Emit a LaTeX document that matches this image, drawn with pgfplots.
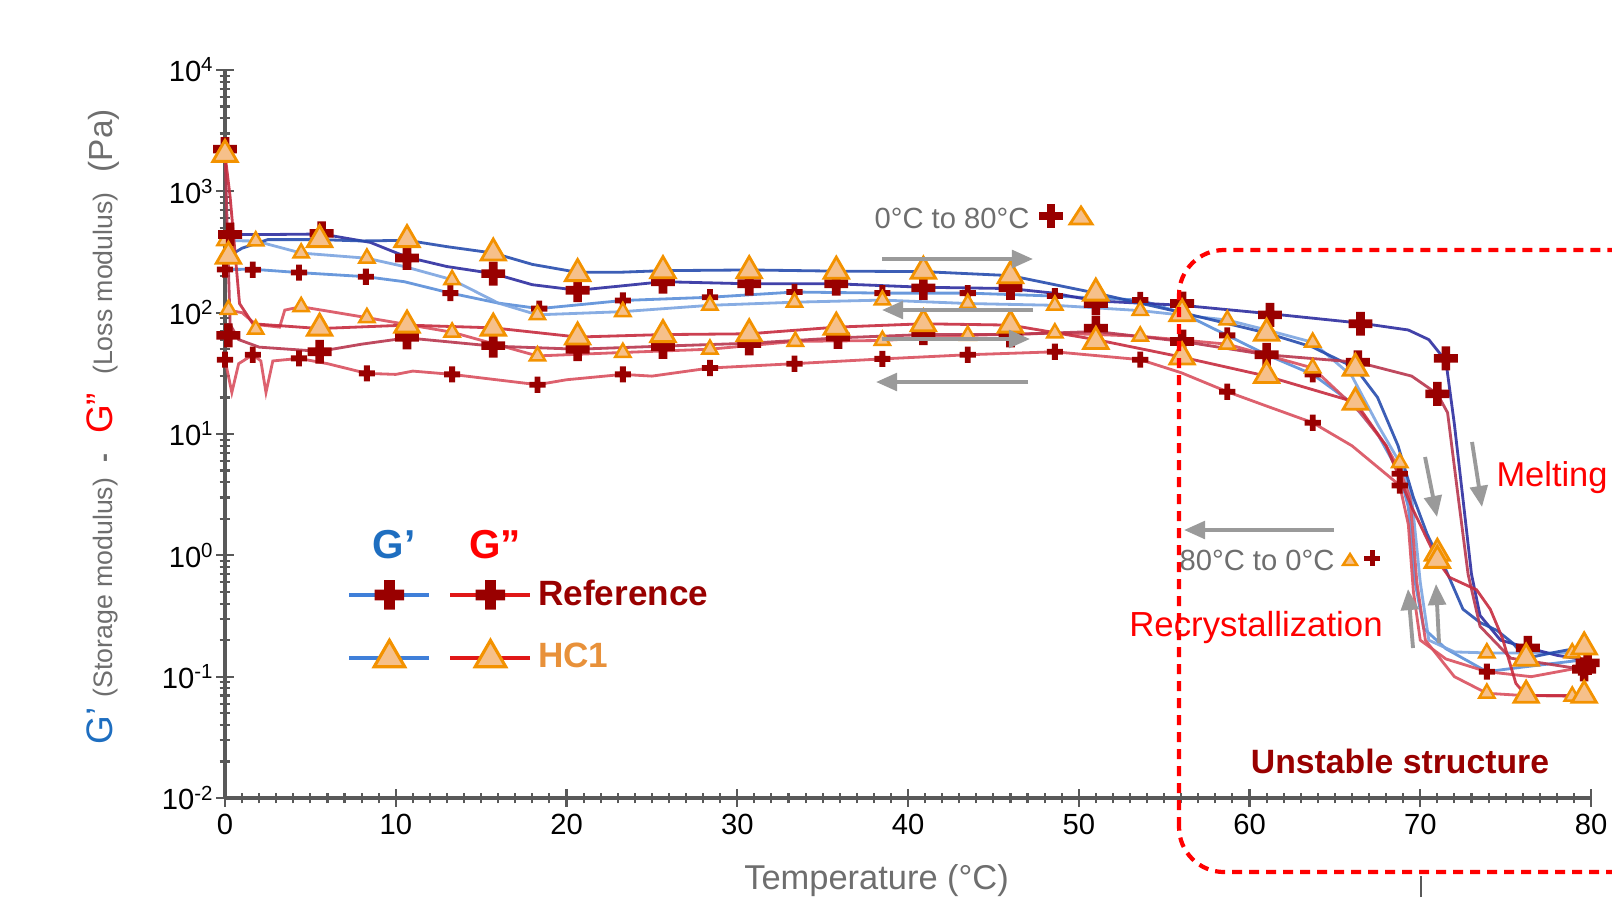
\documentclass[border=0pt]{standalone}
\usepackage{fontspec}
\setmainfont{Liberation Sans}
\usepackage{pgfplots}
\pgfplotsset{compat=1.18}
\usetikzlibrary{arrows.meta}

\definecolor{crossred}{HTML}{990000}
\definecolor{trifill}{HTML}{F6C08A}
\definecolor{tridraw}{HTML}{F39200}
\definecolor{gpblue}{HTML}{1E6EC0}
\definecolor{txtgray}{HTML}{6E6E6E}
\definecolor{arrgray}{HTML}{9A9A9A}
\definecolor{hblue}{HTML}{2E2EA0}
\definecolor{cblue}{HTML}{5A8ED8}
\definecolor{hred}{HTML}{B8364E}
\definecolor{cred}{HTML}{D9505E}
\definecolor{hcorange}{HTML}{E8913A}
\definecolor{legblue}{HTML}{3F7FD9}
\definecolor{legred}{HTML}{E01818}

% filled plus sign
\pgfdeclareplotmark{fplus}{%
  \pgfpathmoveto{\pgfpoint{-0.36\pgfplotmarksize}{\pgfplotmarksize}}%
  \pgfpathlineto{\pgfpoint{0.36\pgfplotmarksize}{\pgfplotmarksize}}%
  \pgfpathlineto{\pgfpoint{0.36\pgfplotmarksize}{0.36\pgfplotmarksize}}%
  \pgfpathlineto{\pgfpoint{\pgfplotmarksize}{0.36\pgfplotmarksize}}%
  \pgfpathlineto{\pgfpoint{\pgfplotmarksize}{-0.36\pgfplotmarksize}}%
  \pgfpathlineto{\pgfpoint{0.36\pgfplotmarksize}{-0.36\pgfplotmarksize}}%
  \pgfpathlineto{\pgfpoint{0.36\pgfplotmarksize}{-\pgfplotmarksize}}%
  \pgfpathlineto{\pgfpoint{-0.36\pgfplotmarksize}{-\pgfplotmarksize}}%
  \pgfpathlineto{\pgfpoint{-0.36\pgfplotmarksize}{-0.36\pgfplotmarksize}}%
  \pgfpathlineto{\pgfpoint{-\pgfplotmarksize}{-0.36\pgfplotmarksize}}%
  \pgfpathlineto{\pgfpoint{-\pgfplotmarksize}{0.36\pgfplotmarksize}}%
  \pgfpathlineto{\pgfpoint{-0.36\pgfplotmarksize}{0.36\pgfplotmarksize}}%
  \pgfpathclose
  \pgfusepathqfill
}

\pgfplotsset{
  legend image code/.code={\draw[mark repeat=2,mark phase=2,#1] plot coordinates {(0cm,0cm) (0.4cm,0cm) (0.8cm,0cm)};},
  bigX/.style={forget plot, only marks, mark=fplus, mark size=3.4pt, mark options={fill=crossred, draw=none}},
  smallX/.style={forget plot, only marks, mark=fplus, mark size=2.3pt, mark options={fill=crossred, draw=none}},
  bigT/.style={forget plot, only marks, mark=triangle*, mark size=4pt, mark options={fill=trifill, draw=tridraw, line width=0.8pt}},
  smallT/.style={forget plot, only marks, mark=triangle*, mark size=2.5pt, mark options={fill=trifill, draw=tridraw, line width=0.7pt}},
  hline/.style={forget plot, no markers, line width=0.8pt, opacity=0.9},
}

\tikzset{arr/.style={draw=arrgray, line width=1.1pt, -{Triangle[length=6pt,width=5pt]}}}

\begin{document}
\begin{tikzpicture}
\clip (0,0) rectangle (16.12,8.97);

\begin{axis}[
  at={(2.25cm,0.99cm)}, anchor=south west,
  scale only axis, width=13.66cm, height=7.28cm,
  xmin=0, xmax=80, ymode=log, ymin=1e-2, ymax=1e4,
  clip=false,
  axis lines*=left,
  axis line style={draw=gray!70!black, line width=1.2pt},
  tick style={gray!70!black, line width=0.6pt},
  tick align=center, major tick length=5pt, minor tick length=3pt,
  xtick distance=10, minor x tick num=9,
  ytick={1e-2,1e-1,1,10,100,1000,1e4},
  yticklabels={10\textsuperscript{-2},10\textsuperscript{-1},10\textsuperscript{0},10\textsuperscript{1},10\textsuperscript{2},10\textsuperscript{3},10\textsuperscript{4}},
  /pgf/number format/assume math mode=true,
  ticklabel style={font=\fontsize{8.3}{9}\selectfont},
  yticklabel style={xshift=3pt},
  xticklabel style={yshift=1.5pt},
  xlabel={Temperature (°C)},
  every axis x label/.style={at={(axis description cs:0.477,-0.114)}, anchor=center,
    font=\fontsize{9.8}{11}\selectfont, text=txtgray},
  ylabel={{\color{gpblue}\fontsize{10.5}{11}\selectfont G’}\hspace{0.1cm}{\color{txtgray}(Storage modulus)}\hspace{0.15cm}{\color{txtgray}\bfseries -}\hspace{0.2cm}{\color{red}\fontsize{10.5}{11}\selectfont G”}\hspace{0.18cm}{\color{txtgray}(Loss modulus)}\hspace{0.2cm}{\color{txtgray}\fontsize{9.5}{11}\selectfont(Pa)}},
  every axis y label/.style={at={(axis description cs:-0.0893,0.51)}, anchor=center, rotate=90,
    font=\fontsize{7.6}{9}\selectfont},
  legend columns=2,
  legend cell align=left,
  legend style={at={(axis description cs:0.0893,0.236)}, anchor=west, draw=none, fill=none,
    inner sep=0pt, row sep=0.3cm, nodes={inner sep=0pt, anchor=west},
    font=\fontsize{10}{12}\selectfont\bfseries,
    /tikz/column 2/.style={column sep=0.14cm},
    /tikz/column 3/.style={column sep=0.06cm}},
]
% legend
\addlegendimage{legblue, line width=1pt, mark=fplus, mark size=4.2pt, mark options={fill=crossred, draw=none}}
\addlegendentry{}
\addlegendimage{legred, line width=1pt, mark=fplus, mark size=4.2pt, mark options={fill=crossred, draw=none}}
\addlegendentry{\textcolor{crossred}{Reference}}
\addlegendimage{legblue, line width=1pt, mark=triangle*, mark size=5pt, mark options={fill=trifill, draw=tridraw, line width=0.9pt}}
\addlegendentry{}
\addlegendimage{legred, line width=1pt, mark=triangle*, mark size=5pt, mark options={fill=trifill, draw=tridraw, line width=0.9pt}}
\addlegendentry{\textcolor{hcorange}{HC1}}

% ---- lines: cooling (80 -> 0 C)
\addplot[hline, cblue] coordinates {(0,227)(1.63,228)(4.33,214)(8.25,198)(10.5,180)(13.2,145)(16,120)(18.4,108)(23.3,126)(28.4,134)(33.35,148)(38.5,145)(43.5,145)(48.6,137)(53.6,127)(56,100)(58.7,65)(61,45)(63.7,31)(66,18)(67.5,10)(68.8,4.7)(69.3,2.5)(69.7,0.6)(70.2,0.25)(71.5,0.17)(73.9,0.11)(76,0.12)(80,0.14)};
\addplot[hline, cblue!80!white] coordinates {(0,392)(1.8,390)(4.46,310)(8.31,281)(10.5,240)(13.3,187)(16,120)(18.3,96)(23.3,102)(28.4,115)(33.35,122)(38.5,127)(43.5,119)(48.6,115)(53.6,104)(58.7,87)(61,72)(63.7,57)(66,30)(67.5,12)(68.8,5.8)(69.5,3)(70,0.6)(70.5,0.2)(72,0.16)(73.9,0.157)(78.9,0.157)(80,0.16)};
\addplot[hline, cred] coordinates {(0,41)(0.4,22)(0.8,38)(1.63,45)(2.1,40)(2.4,22)(2.8,40)(4.33,42)(6,38)(8.31,31.6)(10,31)(11,33)(13.3,31)(15,29)(18.3,25.5)(20,28)(23.3,31)(25,30)(28.4,35)(33.35,38)(38.5,41.6)(43.5,45)(48.6,47.6)(53.6,41)(56,32)(58.7,22.3)(61,17)(63.7,12.4)(66,8)(68.8,3.77)(69.3,1.8)(69.6,0.5)(70,0.2)(71.5,0.14)(73.9,0.11)(76.5,0.1)(79.4,0.119)(80,0.12)};
\addplot[hline, cred] coordinates {(0,106)(1,100)(1.8,80)(3.2,76)(3.5,105)(4.46,112)(8.31,91)(13.3,69)(18.3,44)(23.3,47)(28.4,50)(33.4,58)(38.5,59)(43.5,65)(48.6,68)(53.6,64)(58.7,55)(63.7,35)(66.5,15)(68,8)(68.8,5)(69.4,3)(69.8,0.6)(70.3,0.2)(72,0.1)(73.9,0.073)(76,0.07)(78.9,0.069)(80,0.07)};
% ---- lines: heating (0 -> 80 C)
\addplot[hline, hblue] coordinates {(0.1,441)(2,440)(5.66,445)(8.5,380)(10.66,287)(13,240)(15.71,210)(18,170)(20.65,153)(23,165)(25.65,180)(30.7,173)(35.8,173)(40.9,162)(46,158)(48.5,145)(51,125)(56.05,115)(61.2,98)(66.5,82)(69.3,72)(70.5,60)(71.5,40)(72,12)(72.6,2.2)(73,0.7)(73.5,0.32)(74.7,0.2)(76.3,0.173)(78,0.15)(80,0.135)};
\addplot[hline, hblue!85!cyan] coordinates {(0.2,292)(1,340)(2.5,400)(5.54,400)(8,390)(10.66,395)(13,350)(15.71,310)(18,250)(20.65,215)(23,215)(25.65,222)(30.7,225)(35.8,220)(40.9,218)(46,202)(51,145)(56.05,100)(61,68)(63.7,52)(66.2,35)(67.5,20)(68.7,8)(69.6,3)(70.4,1.5)(71,1.0)(71.5,0.76)(72.5,0.36)(73.5,0.28)(74.5,0.24)(75.4,0.19)(76.2,0.142)(78,0.16)(80,0.18)};
\addplot[hline, hred] coordinates {(0,2225)(0.15,400)(0.3,80)(0.8,60)(2,52)(5.54,48)(8,55)(10.66,62)(15.71,53)(20.65,50)(25.65,53)(30.7,56)(35.9,62)(40.9,66)(46,66)(51,70)(56.05,58)(61,45)(66.35,39)(69.5,30)(71,21.4)(71.6,15)(72.2,3.2)(72.8,0.7)(73.5,0.26)(75.3,0.142)(79.5,0.115)(80,0.115)};
\addplot[hline, hred!80!red] coordinates {(0,2018)(0.3,900)(0.85,119)(1.63,81)(5.54,74)(10.66,79)(15.71,75)(20.65,63)(25.65,66)(30.7,67)(35.8,76)(40.9,81)(46,79)(51,60)(56.05,43)(61,30)(66.2,18.3)(68,8)(69.5,2.5)(71,0.91)(71.7,0.66)(73.3,0.52)(74.1,0.36)(74.8,0.21)(75.6,0.088)(76.2,0.07)(79.6,0.07)(80,0.071)};

% ---- markers: cooling (small)
\addplot[smallX] coordinates {(0,227)(1.63,226)(4.33,214)(8.25,198)(13.2,145)(18.4,108)(23.3,126)(28.4,134)(33.35,148)(38.5,145)(43.5,145)(48.6,137)(53.6,127)(58.7,65)(63.7,31)(68.8,4.7)(73.9,0.11)};
\addplot[smallX] coordinates {(0,41)(1.63,45)(4.33,42)(8.31,31.6)(13.3,31)(18.3,25.5)(23.3,31)(28.4,35)(33.35,38)(38.5,41.6)(43.5,45)(48.6,47.6)(53.6,41)(58.7,22.3)(63.7,12.4)(68.8,3.77)(79.4,0.119)};
\addplot[smallT] coordinates {(0,392)(1.8,390)(4.46,310)(8.31,281)(13.3,187)(18.3,96)(23.3,102)(28.4,115)(33.35,122)(38.5,127)(43.5,119)(48.6,115)(53.6,104)(58.7,87)(63.7,57)(68.8,5.8)(73.9,0.157)(78.9,0.157)};
\addplot[smallT] coordinates {(0.2,106)(1.8,73)(4.46,112)(8.31,91)(13.3,69)(18.3,44)(23.3,47)(28.4,50)(33.4,58)(38.5,59)(43.5,65)(48.6,68)(53.6,64)(58.7,55)(63.7,35)(73.9,0.073)(78.9,0.069)};
% ---- markers: heating (large)
\addplot[bigX] coordinates {(0.3,441)(5.66,450)(10.66,282)(15.71,210)(20.65,153)(25.65,180)(30.7,173)(35.8,173)(40.9,160)(46,160)(51,119)(56.05,119)(61.2,96)(66.5,81)(71.5,42)(76.3,0.173)(79.8,0.13)};
\addplot[bigX] coordinates {(0,2225)(0.2,65)(5.54,47.6)(10.66,62.6)(15.71,53.5)(20.65,50)(25.65,52.3)(30.7,55.7)(35.9,63)(40.9,67.7)(46,65)(51,74.6)(56.05,57.9)(61,45)(66.35,39)(71,21.4)(79.6,0.115)};
\addplot[bigT] coordinates {(0.2,292)(5.54,400)(10.66,400)(15.71,310)(20.65,210)(25.65,222)(30.7,222)(35.8,220)(40.9,220)(46,202)(51,145)(56.05,98)(61,67.7)(66.2,34.8)(71,1.04)(76.2,0.142)(79.6,0.176)};
\addplot[bigT] coordinates {(0,2018)(5.54,74.6)(10.66,79)(15.71,74.6)(20.65,63)(25.65,66)(30.7,67)(35.8,76)(40.9,81)(46,79)(51,58)(56.05,43.2)(61,30.4)(66.2,18.3)(71,0.91)(76.2,0.0703)(79.6,0.0703)};
\end{axis}

% legend headers
\node[font=\fontsize{11.5}{12}\selectfont\bfseries, text=gpblue] at (3.94,3.52) {G’};
\node[font=\fontsize{11.5}{12}\selectfont\bfseries, text=red] at (4.95,3.52) {G”};

% annotations
\node[font=\fontsize{8.3}{10}\selectfont, text=txtgray] at (9.52,6.79) {0°C to 80°C};
\fill[crossred] (10.47,6.69) rectangle (10.55,6.93);
\fill[crossred] (10.39,6.77) rectangle (10.63,6.85);
\filldraw[fill=trifill, draw=tridraw, line width=0.8pt] (10.70,6.73) -- (10.92,6.73) -- (10.81,6.90) -- cycle;

\draw[arr] (8.82,6.38) -- (10.33,6.38);
\draw[arr] (10.33,5.87) -- (8.82,5.87);
\draw[arr] (8.82,5.58) -- (10.30,5.58);
\draw[arr] (10.28,5.15) -- (8.76,5.15);

\draw[arr] (13.34,3.67) -- (11.84,3.67);
\node[font=\fontsize{8.3}{10}\selectfont, text=txtgray] at (12.57,3.37) {80°C to 0°C};
\filldraw[fill=trifill, draw=tridraw, line width=0.7pt] (13.43,3.32) -- (13.57,3.32) -- (13.50,3.43) -- cycle;
\fill[crossred] (13.695,3.31) rectangle (13.745,3.47);
\fill[crossred] (13.64,3.365) rectangle (13.80,3.415);

\draw[arr] (14.25,4.40) -- (14.37,3.80);
\draw[arr] (14.72,4.55) -- (14.82,3.90);
\draw[arr] (14.13,2.49) -- (14.08,3.08);
\draw[arr] (14.39,2.54) -- (14.36,3.13);

\node[font=\fontsize{9.9}{11}\selectfont, text=red] at (12.56,2.70) {Recrystallization};
\node[font=\fontsize{9.8}{11}\selectfont, text=red] at (15.52,4.19) {Melting};
\node[font=\fontsize{9.6}{11}\selectfont\bfseries, text=crossred] at (14.00,1.36) {Unstable structure};

\draw[red, line width=1.2pt, dash pattern=on 1mm off 0.7mm, rounded corners=0.45cm] (11.79,0.25) rectangle (16.6,6.47);
\draw[gray!70!black, line width=0.8pt] (14.21,0) -- (14.21,0.21);
\end{tikzpicture}
\end{document}
